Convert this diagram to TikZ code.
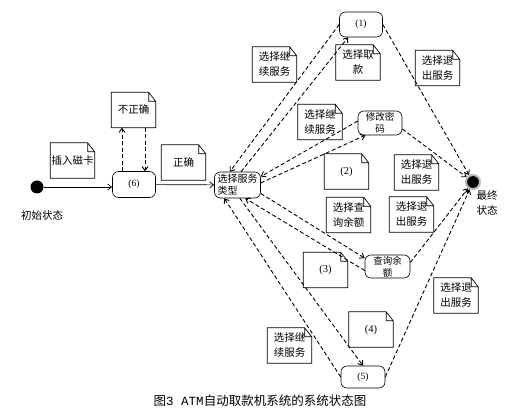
\documentclass[tikz,border=0pt]{standalone}
\usepackage{fontspec}
\setmainfont{Noto Sans CJK SC}
\newfontfamily\numfont{Liberation Serif}
\newfontfamily\capmono{Liberation Mono}
\usetikzlibrary{arrows.meta}
\newcommand{\notesize}{\fontsize{10.5}{15}\selectfont}
\newcommand{\statesize}{\fontsize{9.5}{12}\selectfont}

\begin{document}
\begin{tikzpicture}[x=1pt,y=-1pt,
  >={Straight Barb[length=4pt,width=6pt]},
  state/.style={draw,rounded corners=6pt,minimum width=44pt,minimum height=25pt,
    inner sep=1pt,align=center,font=\statesize,line width=0.6pt},
  notebox/.style={minimum width=44pt,minimum height=35pt,inner sep=1pt,
    align=center,font=\notesize},
  flow/.style={->,line width=0.9pt,dash pattern=on 4pt off 2.5pt},
  solidflow/.style={->,line width=0.7pt}]
  \useasboundingbox (0,0) rectangle (506,411);
  % start / end
  \node[circle,fill=black,minimum size=13pt,inner sep=0pt] (init) at (37,187) {};
  \node[circle,fill=black,draw=gray!55,line width=2pt,minimum size=14pt,inner sep=0pt] (final) at (473,182) {};
  \node[font=\notesize] (initlbl) at (42,215) {初始状态};
  \node[font=\notesize,align=center] (finlbl) at (487,203) {最终\\状态};
  % states
  \node[state,minimum width=43pt,minimum height=26pt] (s6) at (134,184.5) {\numfont (6)};
  \node[state,minimum width=46pt,minimum height=26pt,align=left,
    font=\fontsize{10}{12}\selectfont] (sel) at (237.5,185) {选择服务\\类型};
  \node[state,minimum width=43pt] (s1) at (361,24.5) {\numfont (1)};
  \node[state,minimum height=24pt] (spw) at (380,123) {修改密\\码};
  \node[state,minimum width=45pt,minimum height=23pt,inner sep=0.5pt] (sbal) at (387.5,266.5) {查询余\\额};
  \node[state,minimum height=22pt] (s5) at (363,377) {\numfont (5)};
  % notes
  \node[notebox] (ncard)  at (72.5,160.5) {插入磁卡};
  \node[notebox] (nwrong) at (133.5,110)  {不正确};
  \node[notebox] (nright) at (183.5,162.5) {正确};
  \node[notebox] (ncont1) at (274.5,64.5) {选择继\\续服务};
  \node[notebox] (nwd)    at (358,62.5)   {选择取\\款};
  \node[notebox] (nexit1) at (437.5,68)   {选择退\\出服务};
  \node[notebox] (ncont2) at (320,122)    {选择继\\续服务};
  \node[notebox] (ntwo)   at (346.5,171.5) {\numfont (2)};
  \node[notebox] (nexit2) at (416.5,172.5) {选择退\\出服务};
  \node[notebox] (nqry)   at (348.5,215)  {选择查\\询余额};
  \node[notebox] (nexit3) at (411.5,214.5) {选择退\\出服务};
  \node[notebox] (nthree) at (325.5,270)  {\numfont (3)};
  \node[notebox] (nexit4) at (456,295.5)  {选择退\\出服务};
  \node[notebox] (nfour)  at (371,329.5)  {\numfont (4)};
  \node[notebox] (ncont3) at (289.5,345.5) {选择继\\续服务};
  \foreach \n in {ncard,nwrong,nright,ncont1,nwd,nexit1,ncont2,ntwo,nexit2,
                  nqry,nexit3,nthree,nexit4,nfour,ncont3}{
    \draw[line width=0.7pt] (\n.south west) -- (\n.north west)
      -- ([xshift=-7pt]\n.north east) -- ([yshift=-9pt]\n.north east)
      -- (\n.south east) -- cycle
      ([xshift=-7pt]\n.north east) -- ([xshift=-7pt,yshift=-9pt]\n.north east)
      -- ([yshift=-9pt]\n.north east);
  }
  % transitions
  \draw[solidflow] (init) -- (init -| s6.west);
  \draw[solidflow] (s6) -- (sel);
  \draw[flow] ([xshift=-12pt]s6.north) -- ([xshift=-12pt]s6.north |- nwrong.south);
  \draw[flow] ([xshift=11pt]s6.north |- nwrong.south) -- ([xshift=11pt]s6.north);
  \draw[flow] (s1.west) -- (sel.120);
  \draw[flow] (sel.75) -- (s1.225);
  \draw[flow] (s1.east) -- (final);
  \draw[flow] (spw.175) -- (sel.20);
  \draw[flow] (sel.5) -- (spw.220);
  \draw[flow] (spw.-15) -- (final);
  \draw[flow] (sel.-20) -- (sbal.160);
  \draw[flow] (sbal.190) -- (sel.-60);
  \draw[flow] (sbal.10) -- (final);
  \draw[flow] (sel.-80) -- (s5.north);
  \draw[flow] (s5.west) -- (sel.-135);
  \draw[flow] (s5.east) -- (final);
  % caption
  \node[font=\fontsize{12.5}{15}\selectfont] (caption) at (260,401)
    {图{\capmono 3 ATM}自动取款机系统的系统状态图};
\end{tikzpicture}
\end{document}
